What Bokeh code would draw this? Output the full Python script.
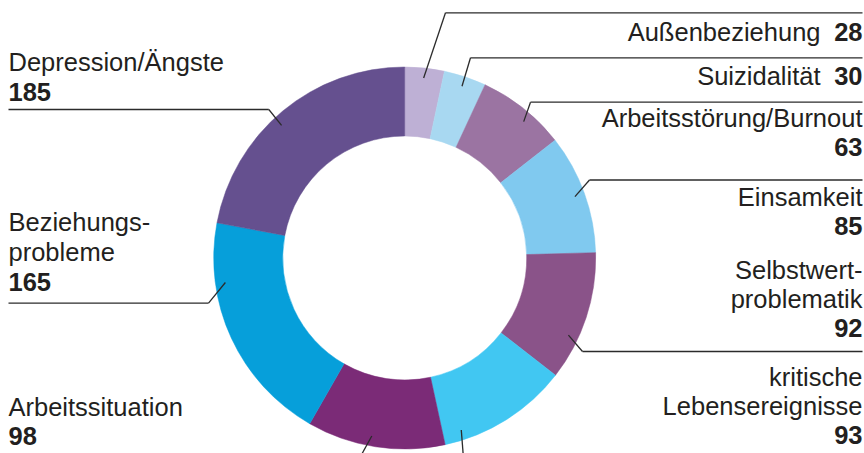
import numpy as np
from bokeh.plotting import figure
from bokeh.models import Range1d, ColumnDataSource
from bokeh.core.properties import value
from bokeh.embed import file_html
from bokeh.resources import INLINE

# ---------------- data ----------------
categories = ["Außenbeziehung", "Suizidalität", "Arbeitsstörung/Burnout", "Einsamkeit",
              "Selbstwertproblematik", "kritische Lebensereignisse", "Arbeitssituation",
              "Beziehungsprobleme", "Depression/Ängste"]
counts = [28, 30, 63, 85, 92, 93, 98, 165, 185]
colors = ["#BEB0D5", "#A8D8F1", "#9B74A2", "#80C9EF", "#8A5389", "#41C7F2",
          "#7B2B77", "#069FDA", "#65508F"]
label_lines = [["Außenbeziehung"], ["Suizidalität"], ["Arbeitsstörung/Burnout"], ["Einsamkeit"],
               ["Selbstwert-", "problematik"], ["kritische", "Lebensereignisse"],
               ["Arbeitssituation"], ["Beziehungs-", "probleme"], ["Depression/Ängste"]]

# ---------------- layout (screen pixels, y from top) ----------------
W, H = 864, 453
CX, CY = 404.2, 257.5
R_OUT, R_IN = 191, 122
R_ANCHOR = 181
FONT = value("Liberation Sans")
FS = "25.5px"
TXT = "#231F20"
TEXT_SHIFT = 9.5   # renderer places alphabetic baseline lower; compensate

side = ["R", "R", "R", "R", "R", "R", "L", "L", "L"]
inline_num = [True, True, False, False, False, False, False, False, False]
baselines = [[40.5], [85], [127, 155.5], [206, 235], [279, 308, 337], [386, 415, 443.5],
             [416, 445], [231, 261, 291], [71, 100.5]]
rule_y = [12.3, 57.3, 101.7, 179.5, 351, 458, 456, 302.7, 109]
corner_x = [445, 470, 530, 589, 582, 463, 360, 208, 268.3]
anchor_frac = [0.5, 0.5, 0.6, 0.5, 0.68, 0.85, 0.54, 0.74, 0.46]
RIGHT_X, LEFT_X, INLINE_LABEL_X = 862, 8, 820

def sy(y):
    return H - y

p = figure(width=W, height=H, x_range=Range1d(0, W), y_range=Range1d(0, H),
           output_backend="svg", toolbar_location=None, min_border=0,
           x_axis_type=None, y_axis_type=None)
p.outline_line_color = None
p.background_fill_color = "white"
p.border_fill_color = "white"

# ---------------- donut ----------------
vals = np.array(counts, dtype=float)
total = vals.sum()
cum = np.cumsum(vals)
theta1 = 360 * (cum - vals) / total   # clockwise from top
theta2 = 360 * cum / total
src = ColumnDataSource(dict(
    cat=categories, color=colors,
    start=np.radians(90 - theta1), end=np.radians(90 - theta2),
    x=[CX] * len(vals), y=[sy(CY)] * len(vals)))
p.annular_wedge(x="x", y="y", inner_radius=R_IN, outer_radius=R_OUT,
                start_angle="start", end_angle="end", direction="clock",
                fill_color="color", line_color="color", line_width=0.5, source=src)

# ---------------- leaders ----------------
seg_x0, seg_y0, seg_x1, seg_y1 = [], [], [], []
for i in range(len(vals)):
    th = np.radians(theta1[i] + anchor_frac[i] * (theta2[i] - theta1[i]))
    ax = CX + R_ANCHOR * np.sin(th)
    ay = sy(CY) + R_ANCHOR * np.cos(th)
    cx, cy = corner_x[i], sy(rule_y[i])
    seg_x0.append(ax); seg_y0.append(ay); seg_x1.append(cx); seg_y1.append(cy)
    end_x = RIGHT_X if side[i] == "R" else LEFT_X
    seg_x0.append(cx); seg_y0.append(cy); seg_x1.append(end_x); seg_y1.append(cy)
p.segment(x0=seg_x0, y0=seg_y0, x1=seg_x1, y1=seg_y1, line_color="#2b2b2b", line_width=1.3)

# ---------------- labels ----------------
lab = dict(x=[], y=[], t=[], a=[])
num = dict(x=[], y=[], t=[], a=[])
for i in range(len(vals)):
    bl = [b - TEXT_SHIFT for b in baselines[i]]
    if side[i] == "R":
        xx, al = RIGHT_X, "right"
    else:
        xx, al = LEFT_X, "left"
    if inline_num[i]:
        lab["x"].append(INLINE_LABEL_X); lab["y"].append(sy(bl[0]))
        lab["t"].append(label_lines[i][0]); lab["a"].append("right")
        num["x"].append(RIGHT_X); num["y"].append(sy(bl[0]))
        num["t"].append(str(counts[i])); num["a"].append("right")
    else:
        for j, line in enumerate(label_lines[i]):
            lab["x"].append(xx); lab["y"].append(sy(bl[j]))
            lab["t"].append(line); lab["a"].append(al)
        num["x"].append(xx); num["y"].append(sy(bl[-1]))
        num["t"].append(str(counts[i])); num["a"].append(al)

p.text(x="x", y="y", text="t", text_align="a", text_baseline="alphabetic",
       text_font=FONT, text_font_size=FS, text_color=TXT, source=ColumnDataSource(lab))
p.text(x="x", y="y", text="t", text_align="a", text_baseline="alphabetic",
       text_font=FONT, text_font_size=FS, text_font_style="bold", text_color=TXT,
       source=ColumnDataSource(num))

open("out.html", "w").write(file_html(p, INLINE))
